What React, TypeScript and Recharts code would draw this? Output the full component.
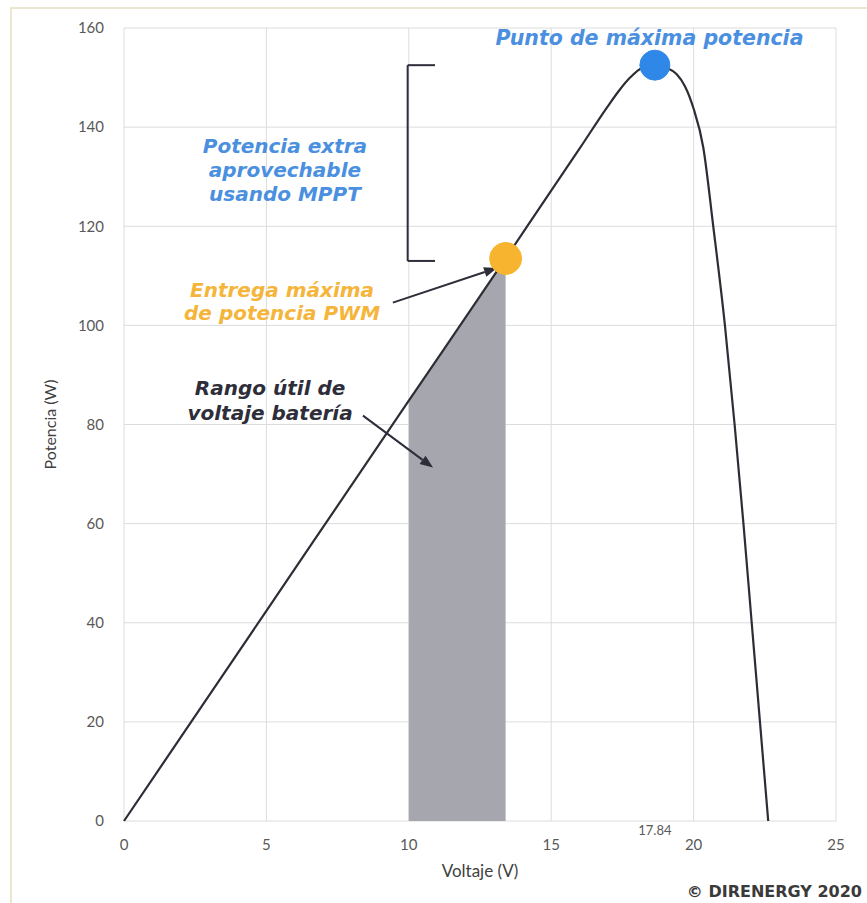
import {
  ComposedChart,
  Line,
  Area,
  XAxis,
  YAxis,
  CartesianGrid,
  ReferenceDot,
  ReferenceLine,
} from "recharts";

// curva potencia-voltaje del panel
const curveVoltage = [0, 5, 10, 13.4, 15, 16, 16.95, 17.4, 17.77, 18.2, 18.64, 19.05, 19.4, 19.7, 19.99, 20.34, 20.69, 21.1, 21.44, 21.75, 22.04, 22.33, 22.62];
const curvePower = [0, 42.4, 84.8, 113.5, 127.2, 135.7, 143.9, 147.5, 150, 152, 152.5, 152, 150.7, 148.2, 143.9, 135.9, 120, 100, 80, 60, 40, 20, 0];

// rango útil de voltaje batería (zona gris)
const batteryVoltage = [10, 13.4];
const batteryPower = [84.8, 113.5];

const xTicks = [0, 5, 10, 15, 20, 25];
const yTicks = [0, 20, 40, 60, 80, 100, 120, 140, 160];

const mppV = 18.64;
const mppP = 152.5;
const mppTickLabel = "17.84";
const pwmV = 13.4;
const pwmP = 113.5;

const curveData = curveVoltage.map((v, i) => ({ v, p: curvePower[i] }));
const batteryData = batteryVoltage.map((v, i) => ({ v, p: batteryPower[i] }));

const BLUE = "#4a8fe0";
const ORANGE = "#f5b53b";
const DARK = "#2e2e3a";
const annFont = "'DejaVu Sans', sans-serif";

const multiLine =
  (lines: string[], color: string, size = 20, lh = 24) =>
  (props: any) => {
    const vb = props.viewBox || {};
    const cx = vb.x + (vb.width || 0) / 2;
    const cy = vb.y + (vb.height || 0) / 2;
    const start = cy - ((lines.length - 1) * lh) / 2 + size * 0.36;
    return (
      <text
        textAnchor="middle"
        fill={color}
        fontSize={size}
        fontWeight={700}
        fontStyle="italic"
        fontFamily={annFont}
      >
        {lines.map((l, i) => (
          <tspan key={i} x={cx} y={start + i * lh}>
            {l}
          </tspan>
        ))}
      </text>
    );
  };

const ArrowShape = (props: any) => {
  const { x1, y1, x2, y2 } = props;
  const ang = Math.atan2(y2 - y1, x2 - x1);
  const L = 13;
  const W = 5;
  const bx = x2 - L * Math.cos(ang);
  const by = y2 - L * Math.sin(ang);
  const pts = [
    [x2, y2],
    [bx + W * Math.sin(ang), by - W * Math.cos(ang)],
    [bx - W * Math.sin(ang), by + W * Math.cos(ang)],
  ]
    .map((p) => p.join(","))
    .join(" ");
  return (
    <g>
      <line x1={x1} y1={y1} x2={bx} y2={by} stroke={DARK} strokeWidth={2} />
      <polygon points={pts} fill={DARK} />
    </g>
  );
};

const tickStyle = { fill: "#595959", fontSize: 15, fontFamily: "Lato, sans-serif" };

export default function App() {
  return (
    <div
      style={{
        position: "absolute",
        left: 0,
        top: 0,
        width: 867,
        height: 903,
        overflow: "hidden",
        background: "#fff",
      }}
    >
      <div
        style={{
          position: "absolute",
          left: 10,
          top: 7,
          width: 900,
          height: 950,
          border: "2px solid #ebe6cf",
        }}
      />
      <div style={{ position: "absolute", left: 0, top: 0 }}>
        <ComposedChart
          width={867}
          height={903}
          data={curveData}
          margin={{ top: 28, right: 31, bottom: 0, left: 0 }}
        >
          <CartesianGrid stroke="#dcdcdc" />
          <XAxis
            type="number"
            dataKey="v"
            domain={[0, 25]}
            ticks={xTicks}
            axisLine={false}
            tickLine={false}
            tickSize={0}
            tickMargin={18}
            height={82}
            tick={tickStyle}
            label={{
              value: "Voltaje (V)",
              position: "insideTop",
              offset: 44,
              fill: "#404040",
              fontSize: 17,
              fontFamily: "Lato, sans-serif",
            }}
          />
          <YAxis
            type="number"
            domain={[0, 160]}
            ticks={yTicks}
            width={124}
            axisLine={false}
            tickLine={false}
            tickSize={0}
            tickMargin={20}
            tick={tickStyle}
            label={{
              value: "Potencia (W)",
              angle: -90,
              position: "insideLeft",
              offset: 50,
              fill: "#404040",
              fontSize: 16,
              fontFamily: "Lato, sans-serif",
              style: { textAnchor: "middle" },
            }}
          />
          <Area
            data={batteryData}
            dataKey="p"
            type="linear"
            fill="#a6a6ae"
            fillOpacity={1}
            stroke="none"
            isAnimationActive={false}
          />
          <Line
            dataKey="p"
            type="monotone"
            stroke="#2d2d36"
            strokeWidth={2.2}
            dot={false}
            isAnimationActive={false}
          />

          {/* corchete potencia extra */}
          <ReferenceLine segment={[{ x: 9.96, y: mppP }, { x: 9.96, y: 113 }]} stroke={DARK} strokeWidth={2} />
          <ReferenceLine segment={[{ x: 9.96, y: mppP }, { x: 10.92, y: mppP }]} stroke={DARK} strokeWidth={2} />
          <ReferenceLine segment={[{ x: 9.96, y: 113 }, { x: 10.92, y: 113 }]} stroke={DARK} strokeWidth={2} />

          {/* flechas */}
          <ReferenceLine segment={[{ x: 9.44, y: 104.6 }, { x: 13.1, y: 111.6 }]} shape={ArrowShape} />
          <ReferenceLine segment={[{ x: 8.39, y: 81.8 }, { x: 10.85, y: 71.3 }]} shape={ArrowShape} />

          <ReferenceDot x={pwmV} y={pwmP} r={16} fill="#f7b52f" stroke="#f7b52f" />
          <ReferenceDot x={mppV} y={mppP} r={15} fill="#2f87e8" stroke="#2f87e8" />

          <ReferenceDot x={18.45} y={158} r={0} stroke="none" label={multiLine(["Punto de máxima potencia"], BLUE, 20.5)} />
          <ReferenceDot
            x={5.65}
            y={131.4}
            r={0}
            stroke="none"
            label={multiLine(["Potencia extra", "aprovechable", "usando MPPT"], BLUE)}
          />
          <ReferenceDot
            x={5.55}
            y={104.8}
            r={0}
            stroke="none"
            label={multiLine(["Entrega máxima", "de potencia PWM"], ORANGE, 20, 23)}
          />
          <ReferenceDot
            x={5.13}
            y={84.9}
            r={0}
            stroke="none"
            label={multiLine(["Rango útil de", "voltaje batería"], DARK, 20, 25)}
          />
          <ReferenceDot
            x={mppV}
            y={0}
            r={0}
            stroke="none"
            label={(p: any) => (
              <text
                x={p.viewBox.x}
                y={p.viewBox.y + 14}
                textAnchor="middle"
                fill="#595959"
                fontSize={13}
                fontFamily="Lato, sans-serif"
              >
                {mppTickLabel}
              </text>
            )}
          />
        </ComposedChart>
      </div>
      <div
        style={{
          position: "absolute",
          right: 5,
          top: 882,
          fontFamily: "'DejaVu Sans', sans-serif",
          fontWeight: 700,
          fontSize: 16,
          color: "#3a3a3a",
          whiteSpace: "nowrap",
        }}
      >
        © DIRENERGY 2020
      </div>
    </div>
  );
}
